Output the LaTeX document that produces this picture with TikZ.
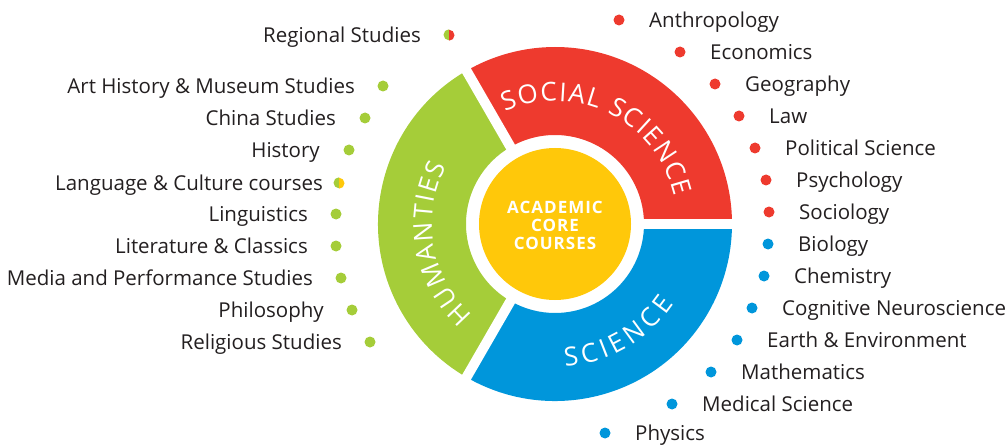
\documentclass[tikz,border=0pt]{standalone}
\usepackage{fontspec}
\setmainfont{Open Sans}
\usetikzlibrary{decorations.text,calc}
\definecolor{cred}{RGB}{238,58,46}
\definecolor{cgreen}{RGB}{165,205,57}
\definecolor{cblue}{RGB}{0,150,219}
\definecolor{cyellow}{RGB}{255,200,10}
\definecolor{ctext}{RGB}{35,31,32}
\newcommand\ringfont{\fontsize{26}{26}\selectfont}
\begin{document}
\begin{tikzpicture}[x=1pt,y=1pt,
  lbl/.style={inner sep=0pt, text=ctext, font=\fontsize{20.5}{24}\selectfont},
  bullet/.style={circle, minimum size=11pt, inner sep=0pt},
  gapline/.style={white, line width=10pt},
  ringtext/.style={decorate, decoration={text along path, text color=white, text align={fit to path}}}
]
\useasboundingbox (0,0) rectangle (1008,445);
\coordinate (C) at (555,221);
% ring segments
\fill[cred] ($(C)+(0:177)$) arc[start angle=0,end angle=120,radius=177]
  -- ($(C)+(120:89)$) arc[start angle=120,end angle=0,radius=89] -- cycle;
\fill[cgreen] ($(C)+(120:177)$) arc[start angle=120,end angle=240,radius=177]
  -- ($(C)+(240:89)$) arc[start angle=240,end angle=120,radius=89] -- cycle;
\fill[cblue] ($(C)+(240:177)$) arc[start angle=240,end angle=360,radius=177]
  -- ($(C)+(360:89)$) arc[start angle=360,end angle=240,radius=89] -- cycle;
\foreach \a in {0,120,240} \draw[gapline] ($(C)+(\a:80)$) -- ($(C)+(\a:186)$);
% core
\node[circle, fill=cyellow, minimum size=152pt, inner sep=0pt] (core) at (C) {};
\node[text=white, align=center, inner sep=0pt,
  font=\bfseries\fontsize{17}{18}\selectfont\addfontfeatures{LetterSpace=6}] (coretext) at ([yshift=-1pt]C) {ACADEMIC\\CORE\\COURSES};
% ring texts
\path[ringtext, decoration={text={|\ringfont|SOCIAL SCIENCE}}]
  ($(C)+(114:123)$) arc[start angle=114,end angle=13,radius=123];
\path[ringtext, decoration={text={|\ringfont|HUMANTIES}}]
  ($(C)+(228:123)$) arc[start angle=228,end angle=152,radius=123];
\path[ringtext, decoration={text={|\ringfont|SCIENCE}}]
  ($(C)+(-86:143)$) arc[start angle=-86,end angle=-34,radius=143];
% right list
\foreach \i/\x/\y/\c/\t in {
  1/619/20/cred/Anthropology,
  2/680/52/cred/Economics,
  3/715/84/cred/Geography,
  4/739/116/cred/Law,
  5/755/148/cred/Political Science,
  6/766/180/cred/Psychology,
  7/769/212/cred/Sociology,
  8/768/244/cblue/Biology,
  9/764/276/cblue/Chemistry,
  10/752/308/cblue/Cognitive Neuroscience,
  11/737/340/cblue/Earth \& Environment,
  12/711/372/cblue/Mathematics,
  13/672/404/cblue/Medical Science,
  14/605/433/cblue/Physics}{
  \node[bullet, fill=\c] (rd\i) at (\x,445-\y) {};
  \node[lbl, anchor=base west] (r\i) at ([xshift=30pt,yshift=-7.5pt]rd\i.center) {\t};
}
% left list
\foreach \i/\x/\y/\g/\t in {
  2/383/86/28/Art History \& Museum Studies,
  3/365/118/29/China Studies,
  4/349/150/29/History,
  6/336/214/28/Linguistics,
  7/336/246/28/Literature \& Classics,
  8/341/278/28/Media and Performance Studies,
  9/352/310/28/Philosophy,
  10/370/342/28/Religious Studies}{
  \node[bullet, fill=cgreen] (ld\i) at (\x,445-\y) {};
  \node[lbl, anchor=base east] (l\i) at ([xshift=-\g pt,yshift=-7.5pt]ld\i.center) {\t};
}
% half dots
\node[bullet] (ld1) at (449,410) {};
\fill[cgreen] (ld1.north) arc[start angle=90,end angle=270,radius=5.5] -- cycle;
\fill[cred] (ld1.south) arc[start angle=-90,end angle=90,radius=5.5] -- cycle;
\node[lbl, anchor=base east] (l1) at ([xshift=-28pt,yshift=-7.5pt]ld1.center) {Regional Studies};
\node[bullet] (ld5) at (339,262) {};
\fill[cgreen] (ld5.north) arc[start angle=90,end angle=270,radius=5.5] -- cycle;
\fill[cyellow] (ld5.south) arc[start angle=-90,end angle=90,radius=5.5] -- cycle;
\node[lbl, anchor=base east] (l5) at ([xshift=-16pt,yshift=-7.5pt]ld5.center) {Language \& Culture courses};
\end{tikzpicture}
\end{document}
